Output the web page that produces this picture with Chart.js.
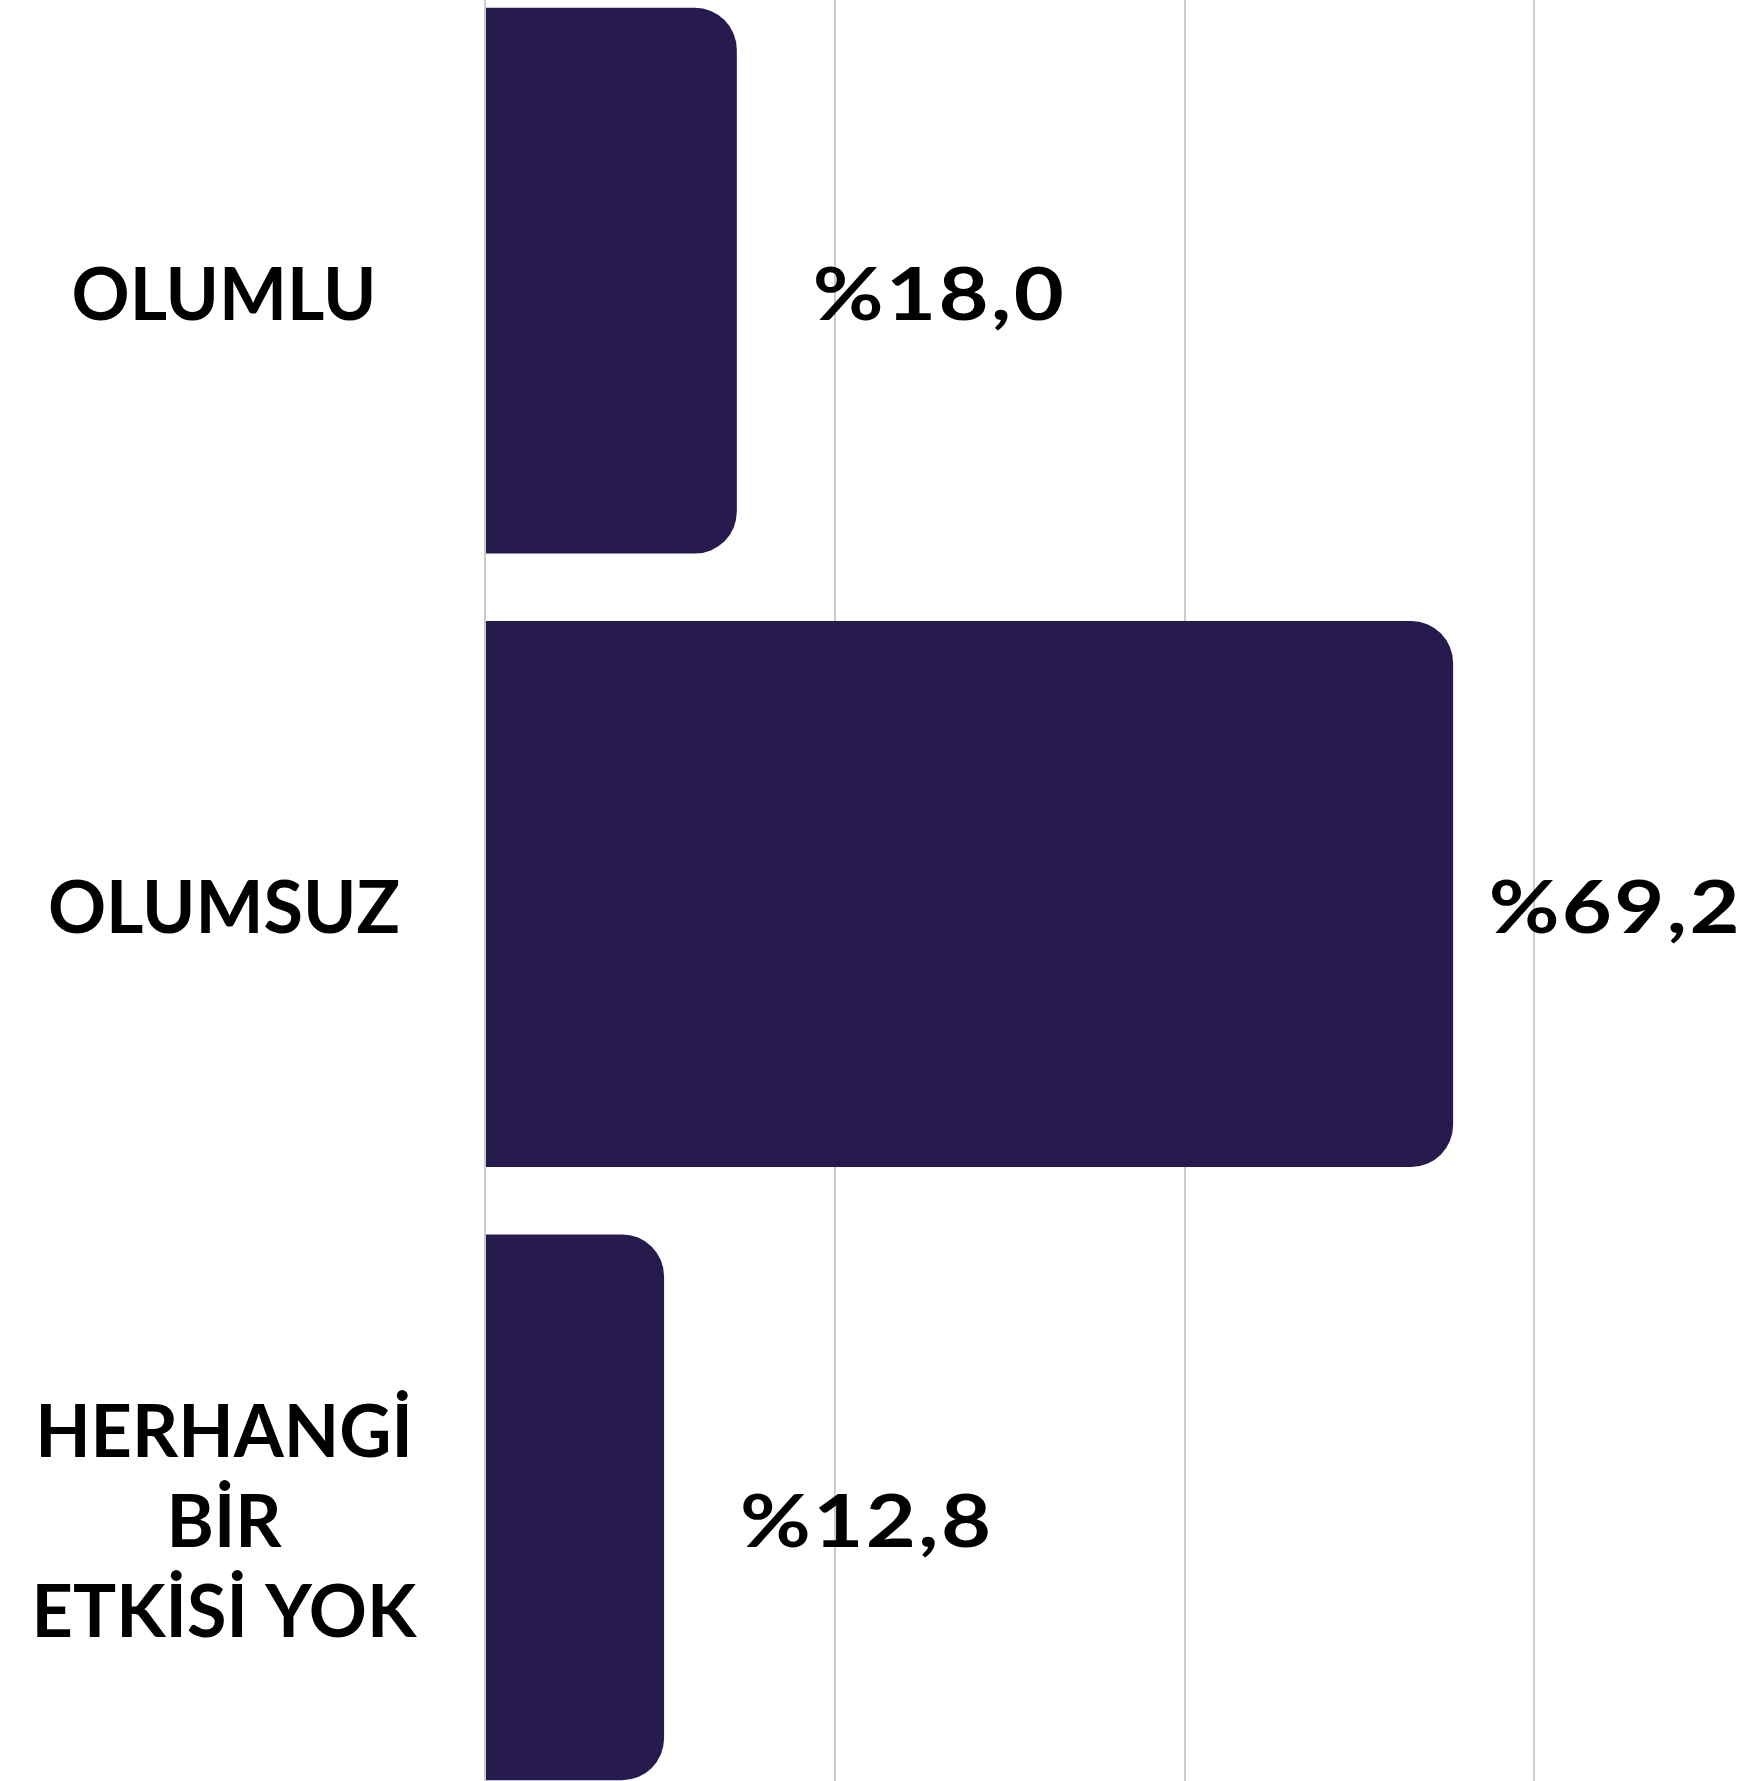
<!DOCTYPE html>
<html>
<head>
<meta charset="utf-8">
<script src="https://cdn.jsdelivr.net/npm/chart.js@4.4.1/dist/chart.umd.min.js"></script>
<style>
  html, body { margin: 0; padding: 0; background: #fff; overflow: hidden; }
  #wrap { position: absolute; left: 0; top: -26px; width: 1756px; height: 1840px; }
</style>
</head>
<body>
<div id="wrap"><canvas id="barchart" width="1756" height="1840"></canvas></div>
<script>
const categories = ['OLUMLU', 'OLUMSUZ', ['HERHANGİ', 'BİR', 'ETKİSİ YOK']];
const values = [18.0, 69.2, 12.8];
const gridTicks = [0, 25, 50, 75];

const barColor = '#271a4d';
const fontFamily = 'Lato, "Noto Sans", sans-serif';
const fontSize = 72;
const fontWeight = 'bold';

// widest label line, used to center the tick labels around x=224
const measure = document.createElement('canvas').getContext('2d');
measure.font = fontWeight + ' ' + fontSize + 'px ' + fontFamily;
const widest = Math.max(...categories.flat().map(t => measure.measureText(t).width));
const axisWidth = 485;
const tickPadding = axisWidth - 224 - widest / 2;

const valueLabels = {
  id: 'valueLabels',
  afterDatasetsDraw(chart) {
    const ctx = chart.ctx;
    const meta = chart.getDatasetMeta(0);
    const stretch = 1.2;
    meta.data.forEach((bar, i) => {
      const text = '%' + values[i].toFixed(1).replace('.', ',');
      ctx.save();
      ctx.font = fontWeight + ' ' + fontSize + 'px ' + fontFamily;
      ctx.letterSpacing = '2px';
      ctx.fillStyle = '#000';
      ctx.textBaseline = 'middle';
      ctx.textAlign = 'left';
      const w = ctx.measureText(text).width * stretch;
      const x = Math.min(bar.x + 76, chart.chartArea.right - w - 14);
      ctx.translate(x, bar.y + 16);
      ctx.scale(stretch, 1);
      ctx.fillText(text, 0, 0);
      ctx.restore();
    });
  }
};

const data = {
  labels: categories,
  datasets: [{
    label: 'Etki',
    data: values,
    backgroundColor: barColor,
    borderWidth: 0,
    borderRadius: 42,
    borderSkipped: 'start',
    barPercentage: 0.89,
    categoryPercentage: 1
  }]
};

new Chart(
  document.getElementById('barchart'),
  {
    type: 'bar',
    data: data,
    plugins: [valueLabels],
    options: {
      indexAxis: 'y',
      responsive: false,
      devicePixelRatio: 1,
      animation: false,
      layout: { padding: 0 },
      plugins: {
        legend: { display: false },
        tooltip: { enabled: false }
      },
      scales: {
        x: {
          min: 0,
          max: 90.85,
          afterBuildTicks: scale => { scale.ticks = gridTicks.map(v => ({ value: v })); },
          afterFit: scale => { scale.height = 0; scale.paddingLeft = 0; scale.paddingRight = 0; },
          ticks: { display: false },
          border: { display: false },
          grid: { color: '#cbcbcb', lineWidth: 2, drawTicks: false }
        },
        y: {
          afterFit: scale => {
            scale.width = axisWidth;
            scale.paddingTop = 0;
            scale.paddingBottom = 0;
          },
          border: { display: false },
          grid: { display: false, drawTicks: false },
          ticks: {
            crossAlign: 'center',
            padding: tickPadding,
            labelOffset: 16,
            color: '#000',
            font: { family: fontFamily, size: fontSize, weight: fontWeight, lineHeight: 1.25 }
          }
        }
      }
    },
  }
);
</script>
</body>
</html>
